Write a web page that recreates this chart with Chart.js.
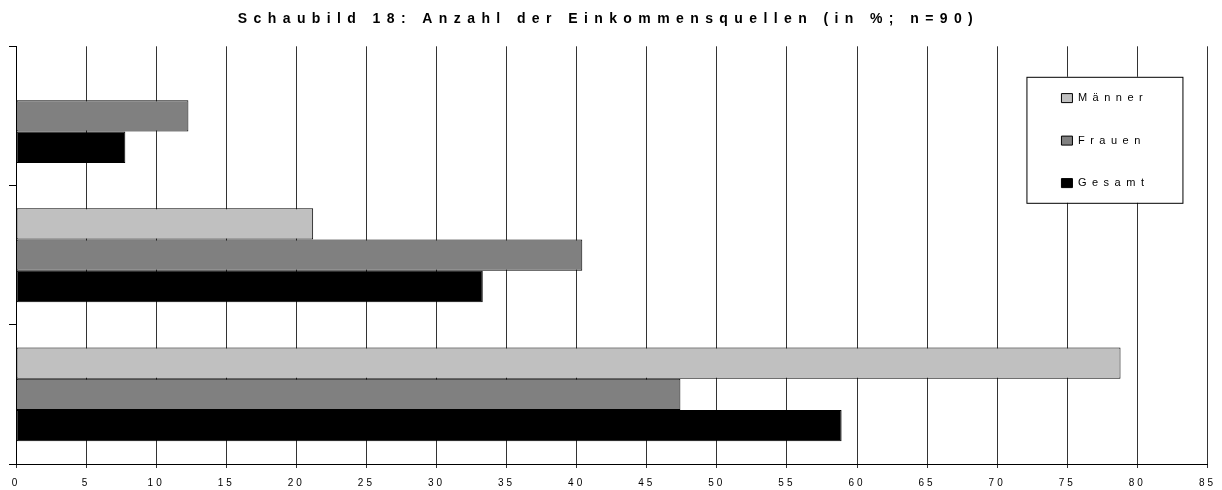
<!DOCTYPE html>
<html>
<head>
<meta charset="utf-8">
<script src="https://cdn.jsdelivr.net/npm/chart.js@4"></script>
<style>
  body { margin: 0; background: #fff; }
  #wrap { width: 1222px; height: 490px; }
</style>
</head>
<body>
<div id="wrap"><canvas id="chart"></canvas></div>
<script>
// Daten (Werte von oben nach unten)
const categories = ['', '', ''];
const maenner = [0, 21.2, 78.8];
const frauen = [12.3, 40.4, 47.4];
const gesamt = [7.8, 33.3, 58.9];
const seriesNames = ['Männer', 'Frauen', 'Gesamt'];
const titleText = 'Schaubild 18: Anzahl der Einkommensquellen (in %; n=90)';

const font = 'Liberation Sans';

// Sperrschrift + Legende im Diagramm
const sperrsatz = {
    id: 'sperrsatz',
    beforeDraw(chart) { chart.ctx.letterSpacing = '3px'; },
    afterLayout(chart) {
        const a = chart.chartArea;
        const lg = chart.legend;
        const box = { x: a.right - 181, y: a.top + 30.5, w: 156, h: 126 };
        lg._box = box;
        lg.left = box.x + 3.5;
        lg.right = box.x + box.w;
        lg.top = box.y - 15.7;
        lg.bottom = box.y + box.h + 60;
        lg.width = lg.right - lg.left;
        lg.height = lg.bottom - lg.top;

        if (!lg._wrapped) {
            const drawLegend = lg.draw.bind(lg);
            lg.draw = function () {
                const ctx = chart.ctx, b = lg._box;
                ctx.save();
                ctx.fillStyle = '#fff';
                ctx.fillRect(b.x, b.y, b.w, b.h);
                ctx.strokeStyle = '#000';
                ctx.lineWidth = 1;
                ctx.strokeRect(b.x + 0.5, b.y + 0.5, b.w, b.h);
                ctx.letterSpacing = '5.5px';
                drawLegend();
                ctx.restore();
            };
            lg._wrapped = true;
        }
        const t = chart.titleBlock;
        if (t && !t._wrapped) {
            const drawTitle = t.draw.bind(t);
            t.draw = function () {
                chart.ctx.save();
                chart.ctx.letterSpacing = '6.4px';
                drawTitle();
                chart.ctx.restore();
            };
            t._wrapped = true;
        }
    }
};

const ds = (label, data, color) => ({
    label, data,
    backgroundColor: color,
    borderColor: '#000',
    borderWidth: 1,
    borderSkipped: false,
    categoryPercentage: 0.675,
    barPercentage: 1.0
});

new Chart(document.getElementById('chart'), {
    type: 'bar',
    data: {
        labels: categories,
        datasets: [
            ds(seriesNames[0], maenner, '#c0c0c0'),
            ds(seriesNames[1], frauen, '#808080'),
            ds(seriesNames[2], gesamt, '#000000')
        ]
    },
    options: {
        indexAxis: 'y',
        responsive: true,
        maintainAspectRatio: false,
        animation: false,
        layout: { padding: { left: 9, right: 14, top: 0, bottom: -8 } },
        plugins: {
            title: {
                display: true, text: titleText, color: '#000',
                font: { family: font, size: 14, weight: 'bold', lineHeight: 1.2 },
                padding: { top: 11, bottom: 18.5 }
            },
            legend: {
                display: true, position: 'chartArea', align: 'start', fullSize: false,
                labels: {
                    color: '#000', boxWidth: 11, boxHeight: 9, padding: 31.5,
                    font: { family: font, size: 11 }
                }
            },
            tooltip: { enabled: false }
        },
        scales: {
            x: {
                min: 0, max: 85,
                ticks: { stepSize: 5, color: '#000', padding: 9, autoSkip: false, maxRotation: 0, font: { family: font, size: 10 } },
                grid: { color: '#333', lineWidth: 1, tickLength: 4 },
                border: { color: '#000', width: 1 }
            },
            y: {
                ticks: { display: false },
                grid: { drawOnChartArea: false, color: '#000', tickLength: 7 },
                border: { color: '#000', width: 1 }
            }
        }
    },
    plugins: [sperrsatz]
});
</script>
</body>
</html>
